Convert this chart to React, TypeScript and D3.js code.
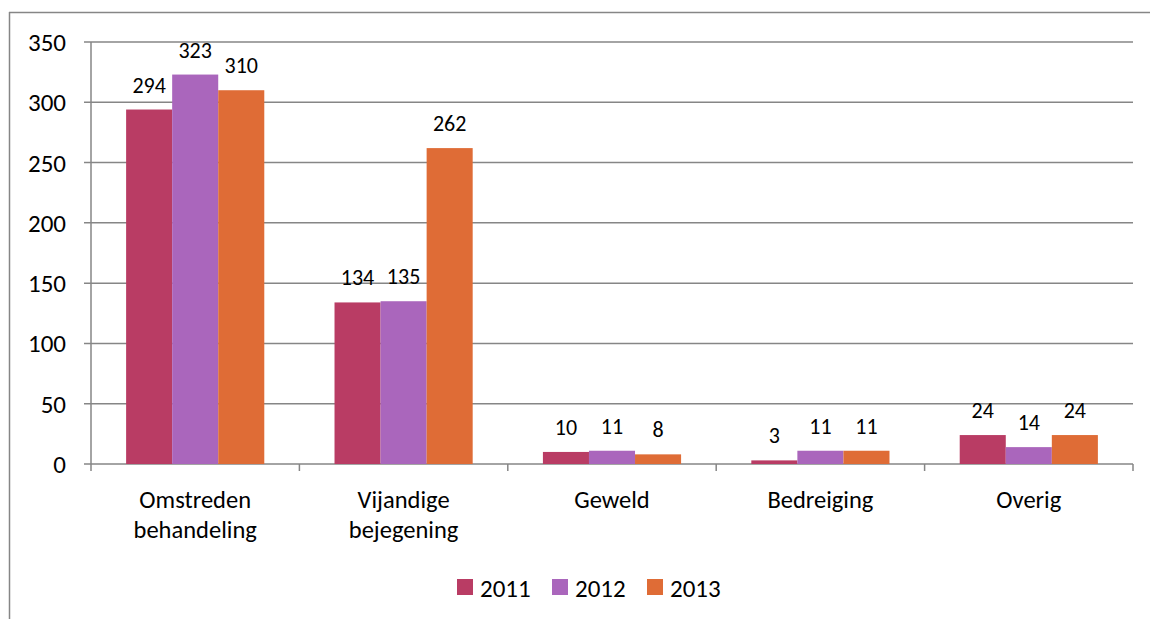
import React from "react";
import * as d3 from "d3";

const categories = [["Omstreden", "behandeling"], ["Vijandige", "bejegening"], ["Geweld"], ["Bedreiging"], ["Overig"]];
const series = ["2011", "2012", "2013"];
const values2011 = [294, 134, 10, 3, 24];
const values2012 = [323, 135, 11, 11, 14];
const values2013 = [310, 262, 8, 11, 24];
const yTicks = [0, 50, 100, 150, 200, 250, 300, 350];
const colors = ["#B93C64", "#AA66BC", "#DF6C36"];

export default function App() {
  const W = 1150, H = 619;
  const left = 91, right = 1133, top = 42, bottom = 464;
  const font = "Carlito, Calibri, Lato, 'Open Sans', sans-serif";
  const allValues = [values2011, values2012, values2013];
  const y = d3.scaleLinear().domain([0, 350]).range([bottom, top]);
  const x0 = d3.scaleBand<number>().domain(d3.range(categories.length)).range([left, right]).paddingInner(0).paddingOuter(0);
  const bw = x0.bandwidth();
  const groupW = bw * 0.663;
  const x1 = d3.scaleBand<number>().domain([0, 1, 2]).range([0, groupW]).padding(0);
  const off = (bw - groupW) / 2;
  return (
    <div style={{ position: "fixed", left: 0, top: 0, width: W, height: H, overflow: "hidden" }}>
      <svg width={W} height={H} style={{ display: "block" }}>
        <rect x={0} y={0} width={W} height={H} fill="#fff" />
        <line x1={9} x2={W} y1={12.5} y2={12.5} stroke="#868686" strokeWidth={1.5} />
        <line x1={9.5} x2={9.5} y1={12} y2={H} stroke="#868686" strokeWidth={1.5} />
        {yTicks.map((t) => (
          <g key={t}>
            <line x1={84} x2={right} y1={y(t)} y2={y(t)} stroke="#868686" strokeWidth={1.5} />
            <text x={66} y={y(t)} dy="0.36em" textAnchor="end" fontFamily={font} fontSize={25} fill="#000">{t}</text>
          </g>
        ))}
        <line x1={left} x2={left} y1={top} y2={bottom} stroke="#868686" strokeWidth={1.5} />
        {d3.range(categories.length + 1).map((i) => {
          const xx = left + i * bw;
          return <line key={i} x1={xx} x2={xx} y1={bottom} y2={bottom + 7} stroke="#868686" strokeWidth={1.5} />;
        })}
        {categories.map((c, i) =>
          allValues.map((vals, s) => {
            const bx = (x0(i) as number) + off + (x1(s) as number);
            const v = vals[i];
            return (
              <g key={`${i}-${s}`}>
                <rect x={bx} y={y(v)} width={x1.bandwidth()} height={bottom - y(v)} fill={colors[s]} />
                <text x={bx + x1.bandwidth() / 2} y={y(v) - 17} textAnchor="middle" fontFamily={font} fontSize={22} fill="#000">{v}</text>
              </g>
            );
          })
        )}
        {categories.map((c, i) => (
          <text key={i} x={(x0(i) as number) + bw / 2} y={508} textAnchor="middle" fontFamily={font} fontSize={24.5} fill="#000">
            {c.map((line, k) => (
              <tspan key={k} x={(x0(i) as number) + bw / 2} dy={k === 0 ? 0 : 30}>{line}</tspan>
            ))}
          </text>
        ))}
        {series.map((s, k) => (
          <g key={s} transform={`translate(${457 + k * 95}, 579)`}>
            <rect x={0} y={0} width={16} height={16} fill={colors[k]} />
            <text x={23} y={18} fontFamily={font} fontSize={25} fill="#000">{s}</text>
          </g>
        ))}
      </svg>
    </div>
  );
}
